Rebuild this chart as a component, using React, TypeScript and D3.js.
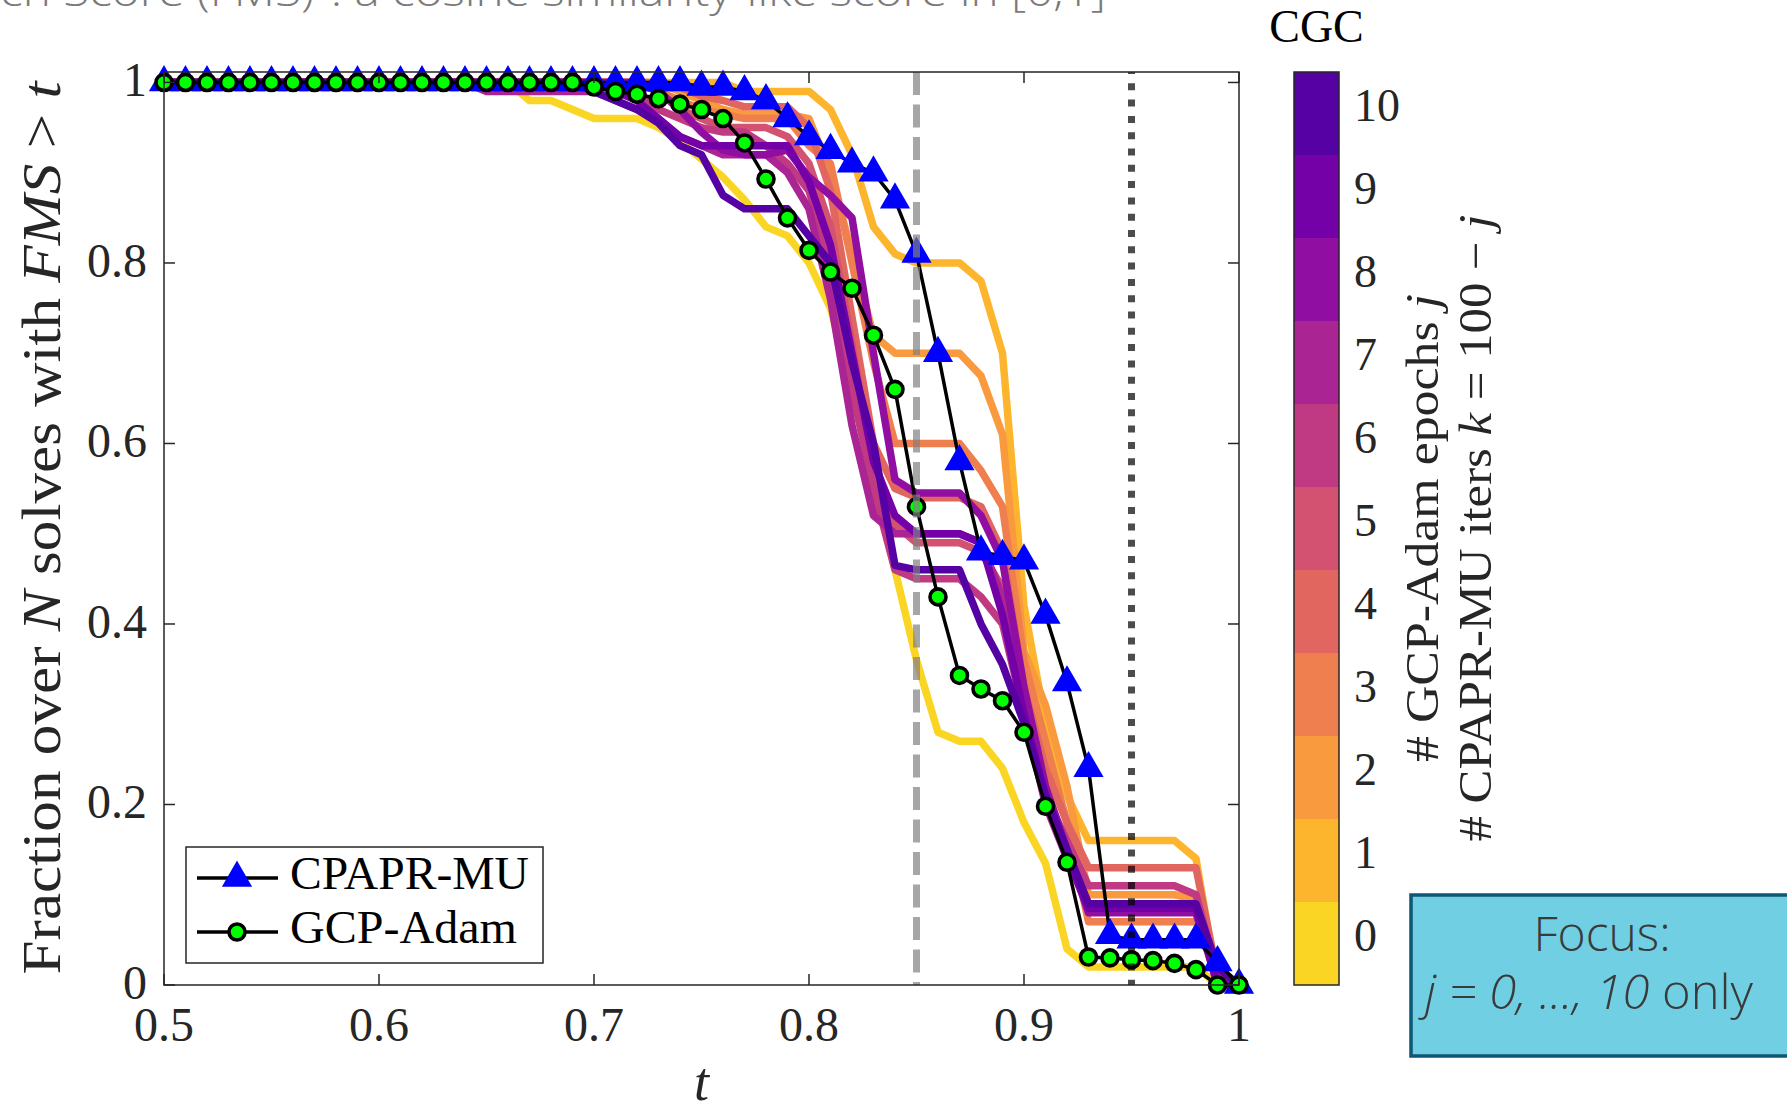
import React from 'react';
import * as d3 from 'd3';

// t grid (x values) shared by every series
const tGrid = [
  0.5, 0.51, 0.52, 0.53, 0.54, 0.55, 0.56, 0.57, 0.58, 0.59,
  0.6, 0.61, 0.62, 0.63, 0.64, 0.65, 0.66, 0.67, 0.68, 0.69,
  0.7, 0.71, 0.72, 0.73, 0.74, 0.75, 0.76, 0.77, 0.78, 0.79,
  0.8, 0.81, 0.82, 0.83, 0.84, 0.85, 0.86, 0.87, 0.88, 0.89,
  0.9, 0.91, 0.92, 0.93, 0.94, 0.95, 0.96, 0.97, 0.98, 0.99, 1,
];

// CGC runs, j = number of GCP-Adam epochs (0..10)
const cgc0 = [1, 1, 1, 1, 1, 1, 1, 1, 1, 1, 1, 1, 1, 1, 1, 1,
  1, 0.98, 0.98, 0.97, 0.96, 0.96, 0.96, 0.95, 0.935, 0.915, 0.895, 0.87, 0.84, 0.83, 0.8, 0.75, 0.66, 0.56,
  0.46, 0.36, 0.28, 0.27, 0.27, 0.24, 0.18, 0.135, 0.04, 0.02, 0.02, 0.02, 0.02, 0.02, 0.02, 0, 0];
const cgc1 = [1, 1, 1, 1, 1, 1, 1, 1, 1, 1, 1, 1, 1, 1, 1, 1,
  1, 1, 1, 1, 1, 1, 1, 1, 1, 1, 1, 0.99, 0.99, 0.99, 0.99, 0.97, 0.92, 0.84,
  0.81, 0.8, 0.8, 0.8, 0.78, 0.7, 0.42, 0.29, 0.21, 0.16, 0.16, 0.16, 0.16, 0.16, 0.14, 0, 0];
const cgc2 = [1, 1, 1, 1, 1, 1, 1, 1, 1, 1, 1, 1, 1, 1, 1, 1,
  1, 1, 1, 1, 1, 1, 1, 1, 0.99, 0.98, 0.97, 0.965, 0.965, 0.965, 0.96, 0.9, 0.81, 0.72,
  0.7, 0.7, 0.7, 0.7, 0.675, 0.61, 0.37, 0.31, 0.22, 0.1, 0.1, 0.1, 0.1, 0.1, 0.095, 0.01, 0];
const cgc3 = [1, 1, 1, 1, 1, 1, 1, 1, 1, 1, 1, 1, 1, 1, 1, 1,
  1, 1, 1, 1, 1, 1, 1, 0.99, 0.98, 0.97, 0.965, 0.96, 0.96, 0.96, 0.93, 0.91, 0.8, 0.69,
  0.6, 0.6, 0.6, 0.6, 0.57, 0.53, 0.36, 0.27, 0.18, 0.07, 0.07, 0.07, 0.07, 0.07, 0.07, 0.01, 0];
const cgc4 = [1, 1, 1, 1, 1, 1, 1, 1, 1, 1, 1, 1, 1, 1, 1, 1,
  1, 1, 1, 1, 1, 1, 1, 1, 0.995, 0.985, 0.98, 0.973, 0.973, 0.973, 0.95, 0.88, 0.74, 0.6,
  0.55, 0.54, 0.54, 0.54, 0.53, 0.48, 0.33, 0.24, 0.18, 0.13, 0.13, 0.13, 0.13, 0.13, 0.13, 0.01, 0];
const cgc5 = [1, 1, 1, 1, 1, 1, 1, 1, 1, 1, 1, 1, 1, 1, 1, 1,
  1, 1, 1, 1, 1, 1, 1, 0.99, 0.97, 0.96, 0.95, 0.95, 0.95, 0.94, 0.91, 0.84, 0.71, 0.57,
  0.51, 0.49, 0.49, 0.49, 0.48, 0.44, 0.32, 0.22, 0.15, 0.09, 0.09, 0.09, 0.09, 0.09, 0.09, 0.01, 0];
const cgc6 = [1, 1, 1, 1, 1, 1, 1, 1, 1, 1, 1, 1, 1, 1, 1, 1,
  1, 1, 1, 1, 1, 1, 0.99, 0.97, 0.96, 0.95, 0.945, 0.945, 0.93, 0.91, 0.88, 0.8, 0.66, 0.55,
  0.46, 0.45, 0.45, 0.45, 0.43, 0.4, 0.3, 0.21, 0.16, 0.11, 0.11, 0.11, 0.11, 0.11, 0.1, 0.01, 0];
const cgc7 = [1, 1, 1, 1, 1, 1, 1, 1, 1, 1, 1, 1, 1, 1, 1, 0.99,
  0.99, 0.99, 0.99, 0.99, 0.99, 0.98, 0.97, 0.96, 0.94, 0.93, 0.92, 0.92, 0.92, 0.9, 0.86, 0.76, 0.62, 0.52,
  0.5, 0.5, 0.5, 0.5, 0.49, 0.43, 0.3, 0.2, 0.14, 0.085, 0.085, 0.085, 0.085, 0.085, 0.08, 0, 0];
const cgc8 = [1, 1, 1, 1, 1, 1, 1, 1, 1, 1, 1, 1, 1, 1, 1, 1,
  1, 1, 1, 1, 1, 1, 1, 0.99, 0.97, 0.945, 0.925, 0.92, 0.92, 0.925, 0.895, 0.875, 0.85, 0.7,
  0.56, 0.545, 0.545, 0.545, 0.52, 0.47, 0.33, 0.22, 0.15, 0.08, 0.08, 0.08, 0.08, 0.08, 0.08, 0.01, 0];
const cgc9 = [1, 1, 1, 1, 1, 1, 1, 1, 1, 1, 1, 1, 1, 1, 1, 1,
  1, 1, 1, 1, 1, 0.99, 0.98, 0.96, 0.94, 0.93, 0.93, 0.93, 0.93, 0.93, 0.89, 0.82, 0.7, 0.58,
  0.52, 0.5, 0.5, 0.5, 0.49, 0.41, 0.3, 0.21, 0.145, 0.085, 0.085, 0.085, 0.085, 0.085, 0.085, 0, 0];
const cgc10 = [1, 1, 1, 1, 1, 1, 1, 1, 1, 1, 1, 1, 1, 1, 1, 1,
  1, 1, 1, 1, 0.99, 0.98, 0.97, 0.955, 0.93, 0.92, 0.875, 0.86, 0.86, 0.86, 0.83, 0.8, 0.69, 0.6,
  0.465, 0.46, 0.46, 0.46, 0.4, 0.355, 0.29, 0.21, 0.15, 0.09, 0.09, 0.09, 0.09, 0.09, 0.09, 0.02, 0];

const cgcSeries = [cgc0, cgc1, cgc2, cgc3, cgc4, cgc5, cgc6, cgc7, cgc8, cgc9, cgc10];
const cgcLevels = [0, 1, 2, 3, 4, 5, 6, 7, 8, 9, 10];

// baselines
const cpaprMu = [1, 1, 1, 1, 1, 1, 1, 1, 1, 1, 1, 1, 1, 1, 1, 1, 1, 1, 1, 1, 1, 1, 1,
  1, 1, 0.995, 0.995, 0.99, 0.98, 0.96, 0.94, 0.925, 0.91, 0.9, 0.87, 0.81, 0.7, 0.58, 0.48,
  0.475, 0.47, 0.41, 0.335, 0.24, 0.055, 0.05, 0.05, 0.05, 0.05, 0.025, 0];
const gcpAdam = [1, 1, 1, 1, 1, 1, 1, 1, 1, 1, 1, 1, 1, 1, 1, 1, 1, 1, 1, 1,
  0.995, 0.99, 0.987, 0.982, 0.976, 0.97, 0.96, 0.933, 0.893, 0.85, 0.814, 0.79, 0.772, 0.72,
  0.66, 0.53, 0.43, 0.343, 0.328, 0.315, 0.28, 0.198, 0.136, 0.031, 0.03, 0.028, 0.027, 0.024,
  0.017, 0, 0];

const xTicks = [0.5, 0.6, 0.7, 0.8, 0.9, 1];
const xTickLabels = ['0.5', '0.6', '0.7', '0.8', '0.9', '1'];
const yTicks = [0, 0.2, 0.4, 0.6, 0.8, 1];
const yTickLabels = ['0', '0.2', '0.4', '0.6', '0.8', '1'];
const refLines = [0.85, 0.95];

const serif = '"Liberation Serif", "DejaVu Serif", serif';
const sans = '"Open Sans", "Noto Sans", sans-serif';
const axisColor = '#262626';

const cgcColor = (j: number) => d3.interpolatePlasma(0.915 - 0.0765 * j);

export default function App() {
  const left = 164, right = 1239, top = 72, bottom = 985;
  const x = d3.scaleLinear().domain([0.5, 1]).range([left, right]);
  const y = d3.scaleLinear().domain([0, 1.0116]).range([bottom, top]);
  const line = d3.line<number>().x((_, i) => x(tGrid[i])).y(d => y(d));
  const tri = d3.symbol(d3.symbolTriangle, 330)() as string;

  // colorbar
  const cb = { x0: 1294, x1: 1339 };
  const cbScale = d3.scaleLinear().domain([-0.5, 10.5]).range([bottom, top]);

  return (
    <div style={{ position: 'absolute', left: 0, top: 0 }}>
      <svg width={1787} height={1105} style={{ display: 'block', background: '#fff' }}>
        {/* cut title from slide */}
        <text x={0} y={6} fontFamily={sans} fontWeight={300} fontSize={40} fill="#7a7a7a"
          textLength={1106} lengthAdjust="spacingAndGlyphs">
          ch Score (FMS)": a cosine similarity-like score in [0,1]
        </text>

        {/* CGC lines */}
        <g fill="none" strokeWidth={7.5} strokeLinejoin="round">
          {cgcSeries.map((s, j) => (
            <path key={j} d={line(s) as string} stroke={cgcColor(cgcLevels[j])} />
          ))}
        </g>

        {/* CPAPR-MU */}
        <path d={line(cpaprMu) as string} fill="none" stroke="#000" strokeWidth={3.5} />
        {cpaprMu.map((v, i) => (
          <path key={i} d={tri} transform={`translate(${x(tGrid[i])},${y(v)})`} fill="#0000ff" stroke="#0000ff" strokeWidth={1.5} />
        ))}

        {/* GCP-Adam */}
        <path d={line(gcpAdam) as string} fill="none" stroke="#000" strokeWidth={3.5} />
        {gcpAdam.map((v, i) => (
          <circle key={i} cx={x(tGrid[i])} cy={y(v)} r={8} fill="#00ff00" stroke="#000" strokeWidth={3.6} />
        ))}

        {/* reference thresholds */}
        <line x1={x(refLines[0])} x2={x(refLines[0])} y1={top} y2={bottom} stroke="#808080" strokeOpacity={0.7}
          strokeWidth={7} strokeDasharray="23 9.5" />
        <line x1={x(refLines[1])} x2={x(refLines[1])} y1={top} y2={bottom} stroke="#000" strokeOpacity={0.7}
          strokeWidth={7} strokeDasharray="7 9.3" strokeDashoffset={5} />

        {/* axes box */}
        <rect x={left} y={top} width={right - left} height={bottom - top} fill="none" stroke={axisColor} strokeWidth={1.5} />
        {xTicks.map((t, i) => (
          <g key={'x' + i}>
            <line x1={x(t)} x2={x(t)} y1={bottom} y2={bottom - 11} stroke={axisColor} strokeWidth={1.5} />
            <line x1={x(t)} x2={x(t)} y1={top} y2={top + 11} stroke={axisColor} strokeWidth={1.5} />
            <text x={x(t)} y={1041} textAnchor="middle" fontFamily={serif} fontSize={48} fill={axisColor}>{xTickLabels[i]}</text>
          </g>
        ))}
        {yTicks.map((v, i) => (
          <g key={'y' + i}>
            <line x1={left} x2={left + 11} y1={y(v)} y2={y(v)} stroke={axisColor} strokeWidth={1.5} />
            <line x1={right} x2={right - 11} y1={y(v)} y2={y(v)} stroke={axisColor} strokeWidth={1.5} />
            <text x={147} y={y(v) + 14} textAnchor="end" fontFamily={serif} fontSize={48} fill={axisColor}>{yTickLabels[i]}</text>
          </g>
        ))}

        {/* axis labels */}
        <text transform="translate(60,528) rotate(-90)" textAnchor="middle" fontFamily={serif} fontSize={54} fill={axisColor}
          textLength={893} lengthAdjust="spacingAndGlyphs">
          Fraction over <tspan fontStyle="italic">N</tspan> solves with <tspan fontStyle="italic">FMS</tspan> &gt; <tspan fontStyle="italic">t</tspan>
        </text>
        <text x={(left + right) / 2} y={1100} textAnchor="middle" fontFamily={serif} fontStyle="italic" fontSize={54} fill={axisColor}>t</text>

        {/* legend */}
        <rect x={186} y={847} width={357} height={116} fill="#fff" stroke={axisColor} strokeWidth={1.5} />
        <line x1={197} x2={278} y1={878} y2={878} stroke="#000" strokeWidth={3.5} />
        <path d={tri} transform="translate(237,878)" fill="#0000ff" stroke="#0000ff" strokeWidth={1.5} />
        <text x={290} y={889} fontFamily={serif} fontSize={46} fill="#000" textLength={239} lengthAdjust="spacingAndGlyphs">CPAPR-MU</text>
        <line x1={197} x2={278} y1={932} y2={932} stroke="#000" strokeWidth={3.5} />
        <circle cx={237} cy={932} r={8} fill="#00ff00" stroke="#000" strokeWidth={3.6} />
        <text x={290} y={943} fontFamily={serif} fontSize={46} fill="#000" textLength={227} lengthAdjust="spacingAndGlyphs">GCP-Adam</text>

        {/* colorbar */}
        {cgcLevels.map(j => (
          <rect key={j} x={cb.x0} y={cbScale(j + 0.5)} width={cb.x1 - cb.x0} height={cbScale(j - 0.5) - cbScale(j + 0.5)}
            fill={cgcColor(j)} />
        ))}
        <rect x={cb.x0} y={top} width={cb.x1 - cb.x0} height={bottom - top} fill="none" stroke={axisColor} strokeWidth={1.5} />
        {cgcLevels.map(j => (
          <text key={'l' + j} x={1354} y={cbScale(j) + 7} fontFamily={serif} fontSize={46} fill={axisColor}>{j}</text>
        ))}
        <text x={(cb.x0 + cb.x1) / 2} y={42} textAnchor="middle" fontFamily={serif} fontSize={46} fill="#000">CGC</text>
        <text transform="translate(1438,528) rotate(-90)" textAnchor="middle" fontFamily={serif} fontSize={46} fill={axisColor}
          textLength={468} lengthAdjust="spacingAndGlyphs">
          # GCP-Adam epochs <tspan fontStyle="italic">j</tspan>
        </text>
        <text transform="translate(1491,528) rotate(-90)" textAnchor="middle" fontFamily={serif} fontSize={46} fill={axisColor}
          textLength={627} lengthAdjust="spacingAndGlyphs">
          # CPAPR-MU iters <tspan fontStyle="italic">k</tspan> = 100 − <tspan fontStyle="italic">j</tspan>
        </text>

        {/* focus note */}
        <rect x={1411} y={895} width={420} height={161} fill="#70cfe2" stroke="#0d5777" strokeWidth={3.5} />
        <text x={1602} y={951} textAnchor="middle" fontFamily={sans} fontWeight={300} fontSize={48} fill="#3a3a3a">Focus:</text>
        <text x={1425} y={1009} fontFamily={sans} fontWeight={300} fontSize={48} fill="#3a3a3a"
          textLength={328} lengthAdjust="spacingAndGlyphs">
          <tspan fontStyle="italic">j = 0, ..., 10</tspan> only
        </text>
      </svg>
    </div>
  );
}
